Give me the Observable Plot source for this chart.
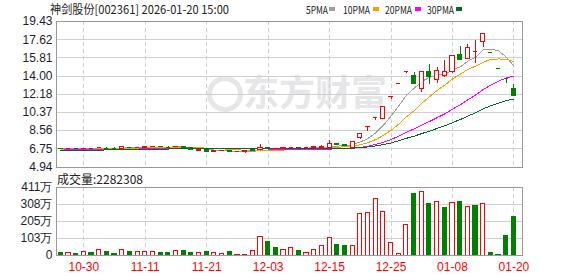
<!DOCTYPE html>
<html><head><meta charset="utf-8">
<script src="https://cdn.jsdelivr.net/npm/d3@7"></script>
<script src="https://cdn.jsdelivr.net/npm/@observablehq/plot@0.6"></script>
<style>
body{margin:0;background:#fff;}
#wrap{position:relative;width:578px;height:276px;overflow:hidden;background:#fff;font-family:"Noto Sans CJK SC",sans-serif;}
.abs{position:absolute;white-space:nowrap;}
#wrap svg{position:absolute;left:0;}
</style></head><body>
<div id="wrap">
  <div class="abs" style="left:207px;top:76px;width:26px;height:26px;border:5px solid #e6e6e8;border-radius:50%;"></div>
  <div class="abs" style="left:243px;top:72px;font-size:36px;line-height:36px;font-weight:bold;color:#e6e6e8;">东方财富</div>
  <div class="abs" id="title" style="left:50px;top:0px;font-size:12px;line-height:17px;color:#222;transform-origin:0 0;"></div>
  <div class="abs" id="vollabel" style="left:57px;top:170px;font-size:12px;line-height:17px;color:#222;"></div>
</div>
<script>
const stockName = "神剑股份[002361] 2026-01-20 15:00";
const volumeLabel = "成交量:2282308";
const dates = ["10-27","10-28","10-29","10-30","10-31","11-03","11-04","11-05","11-06","11-07","11-10","11-11","11-12","11-13","11-14","11-17","11-18","11-19","11-20","11-21","11-24","11-25","11-26","11-27","11-28","12-01","12-02","12-03","12-04","12-05","12-08","12-09","12-10","12-11","12-12","12-15","12-16","12-17","12-18","12-19","12-22","12-23","12-24","12-25","12-26","12-29","12-30","12-31","01-05","01-06","01-07","01-08","01-09","01-12","01-13","01-14","01-15","01-16","01-19","01-20"];
const opens  = [6.78,6.74,6.76,6.72,6.77,6.86,6.86,6.82,6.76,6.88,6.86,6.84,6.92,6.98,6.95,6.92,6.94,6.85,6.56,6.68,6.48,6.52,6.50,6.44,6.46,6.62,6.68,6.88,6.72,6.76,6.84,6.86,6.82,6.80,6.88,6.88,7.20,7.12,6.85,7.81,9.01,9.90,9.70,11.96,13.26,14.45,14.05,12.73,14.45,13.62,14.05,14.39,16.05,15.71,16.46,17.37,16.35,14.72,13.72,12.73];
const highs  = [6.82,6.78,6.78,6.80,6.80,6.92,6.90,6.84,6.92,6.92,6.90,6.92,6.99,7.00,6.97,6.98,6.96,6.88,6.68,6.70,6.58,6.58,6.52,6.50,6.52,6.68,7.15,6.92,6.80,6.86,6.88,6.90,6.86,6.92,7.11,7.58,7.25,7.15,7.45,8.24,9.01,9.90,10.90,11.96,13.26,14.45,14.32,14.50,15.12,14.88,15.55,16.00,16.94,17.11,17.54,18.26,16.35,14.72,13.72,13.16];
const lows   = [6.70,6.70,6.72,6.70,6.72,6.80,6.80,6.76,6.74,6.84,6.84,6.80,6.90,6.92,6.90,6.90,6.86,6.60,6.54,6.40,6.46,6.50,6.38,6.42,6.25,6.54,6.62,6.74,6.70,6.74,6.82,6.78,6.80,6.78,6.85,6.85,7.10,7.04,6.82,7.68,8.48,9.57,9.65,11.70,13.26,14.22,13.20,12.39,13.12,13.22,13.89,14.30,15.50,15.61,15.22,16.88,16.35,14.72,13.22,11.98];
const closes = [6.74,6.76,6.74,6.77,6.75,6.84,6.83,6.80,6.90,6.86,6.88,6.90,6.97,6.94,6.92,6.96,6.88,6.62,6.66,6.44,6.55,6.56,6.44,6.47,6.50,6.56,6.85,6.78,6.76,6.84,6.86,6.82,6.84,6.90,6.95,7.25,7.15,7.08,7.41,8.24,9.01,9.90,10.90,11.96,13.26,14.45,13.22,14.45,13.89,14.55,14.45,15.95,15.61,16.78,16.48,18.20,16.35,14.72,13.72,12.00];
// volume in 万 (10k)
const volumes = [16,16,10,22,16,32,22,10,32,22,20,20,20,16,16,26,28,16,14,22,14,10,22,6,6,26,114,80,44,36,48,30,16,34,60,106,66,60,60,250,256,340,262,76,12,186,372,382,312,322,288,316,324,294,296,310,18,6,120,228.2308];
// closes of the 29 sessions before the window (estimated from the MA levels at the left edge)
const priorCloses = [6.35,6.40,6.38,6.42,6.45,6.40,6.38,6.44,6.46,6.55,6.60,6.65,6.62,6.68,6.64,6.60,6.62,6.66,6.60,6.50,6.48,6.52,6.55,6.58,6.62,6.68,6.72,6.75,6.78];
const priceTicks = [4.94,6.75,8.56,10.37,12.18,14.00,15.81,17.62,19.43];
const volTicks = [0,102.75,205.5,308.25,411];
const volTickLabels = ["0","103万","205万","308万","411万"];
const dateTicks = ["10-30","11-11","11-21","12-03","12-15","12-25","01-08","01-20"];
const maNames = ["5PMA","10PMA","20PMA","30PMA"];
const maPeriods = [5,10,20,30];

const RED = "#ff0000", GREEN = "#008000";
const maColors = ["#a0a0a0","#f5a200","#ff00ff","#006b2a"];
const AXIS_FONT = "'Liberation Sans', Arial, sans-serif";

const titleEl = document.getElementById("title");
titleEl.textContent = stockName;
titleEl.style.transform = `scaleX(${179 / titleEl.getBoundingClientRect().width})`;
document.getElementById("vollabel").textContent = volumeLabel;

const data = dates.map((d, i) => ({i, d, o: opens[i], h: highs[i], l: lows[i], c: closes[i], v: volumes[i],
  pc: i ? closes[i-1] : priorCloses[priorCloses.length-1]}));
data.forEach(r => { r.up = r.c > r.o || (r.c === r.o && r.c >= r.pc); r.vup = r.c >= r.pc; });
const all = priorCloses.concat(closes);
const P = priorCloses.length;
const ma = k => data.map(r => ({i: r.i, v: d3.mean(all.slice(P + r.i - k + 1, P + r.i + 1))}));
const tickIdx = dateTicks.map(t => dates.indexOf(t));
const xDomain = [-0.56, 60.12];
const HW = 0.27;
const bodies = data.filter(d => Math.abs(d.c - d.o) >= 0.04);
const flats = data.filter(d => Math.abs(d.c - d.o) < 0.04);

const price = Plot.plot({
  width: 578, height: 172, marginLeft: 56, marginRight: 56, marginTop: 21, marginBottom: 5.5,
  style: {background: "transparent", overflow: "visible", fontFamily: AXIS_FONT},
  x: {domain: xDomain, axis: null},
  y: {domain: [4.94, 19.43], axis: null},
  color: {type: "identity"},
  marks: [
    Plot.ruleY(priceTicks, {stroke: "#cfcfcf", shapeRendering: "crispEdges"}),
    Plot.ruleX(tickIdx, {stroke: "#cfcfcf", strokeDasharray: "4,3", shapeRendering: "crispEdges"}),
    Plot.axisY(priceTicks, {anchor: "left", label: null, tickSize: 0, tickPadding: 4, fontSize: 12, fill: "#1e1e2e", tickFormat: d => d.toFixed(2)}),
    ...maPeriods.map((k, j) => Plot.line(ma(k), {x: "i", y: "v", stroke: maColors[j], strokeWidth: 1, shapeRendering: "crispEdges"})),
    Plot.ruleX(data, {x: "i", y1: "l", y2: "h", stroke: d => d.up ? RED : GREEN, shapeRendering: "crispEdges"}),
    Plot.rect(bodies, {x1: d => d.i - HW, x2: d => d.i + HW, y1: d => Math.min(d.o, d.c), y2: d => Math.max(d.o, d.c),
      fill: d => d.up ? "#ffffff" : GREEN, stroke: d => d.up ? RED : GREEN, shapeRendering: "crispEdges"}),
    Plot.ruleY(flats, {x1: d => d.i - HW, x2: d => d.i + HW, y: "c", stroke: d => d.up ? RED : GREEN, shapeRendering: "crispEdges"}),
    Plot.frame({stroke: "#999", shapeRendering: "crispEdges"})
  ]
});
price.style.top = "0px";

const vol = Plot.plot({
  width: 578, height: 106, marginLeft: 56, marginRight: 56, marginTop: 16.5, marginBottom: 21,
  style: {background: "transparent", overflow: "visible", fontFamily: AXIS_FONT},
  x: {domain: xDomain, axis: null},
  y: {domain: [0, 411], axis: null},
  color: {type: "identity"},
  marks: [
    Plot.ruleY(volTicks, {stroke: "#cfcfcf", shapeRendering: "crispEdges"}),
    Plot.ruleX(tickIdx, {stroke: "#cfcfcf", strokeDasharray: "4,3", shapeRendering: "crispEdges"}),
    Plot.axisY(volTicks, {anchor: "left", label: null, tickSize: 0, tickPadding: 4, fontSize: 12, fill: "#1e1e2e", tickFormat: d => volTickLabels[volTicks.indexOf(d)]}),
    Plot.axisX(tickIdx, {anchor: "bottom", label: null, tickSize: 0, tickPadding: 7, fontSize: 12, fill: RED, tickFormat: i => dates[i]}),
    Plot.rect(data, {x1: d => d.i - HW, x2: d => d.i + HW, y1: 0, y2: "v",
      fill: d => d.vup ? "#ffffff" : GREEN, stroke: d => d.vup ? RED : GREEN, shapeRendering: "crispEdges"}),
    Plot.frame({stroke: "#999", shapeRendering: "crispEdges"})
  ]
});
vol.style.top = "170px";

const wrap = document.getElementById("wrap");
wrap.appendChild(price);
wrap.appendChild(vol);

// legend
const legendX = [306, 343, 385, 427];
const legendW = [22, 27, 27, 27];
const swatchX = [329, 373, 415, 456];
maNames.forEach((n, j) => {
  const t = document.createElement("div");
  t.className = "abs";
  t.style.cssText = `left:${legendX[j]}px;top:1px;font-size:11px;line-height:17px;color:#222;font-family:'Noto Sans CJK SC',sans-serif;transform-origin:0 0;`;
  t.textContent = n;
  wrap.appendChild(t);
  t.style.transform = `scaleX(${legendW[j] / t.getBoundingClientRect().width})`;
  const s = document.createElement("div");
  s.className = "abs";
  s.style.cssText = `left:${swatchX[j]}px;top:7px;width:6px;height:4px;background:${maColors[j]};`;
  wrap.appendChild(s);
});
</script>
</body></html>
